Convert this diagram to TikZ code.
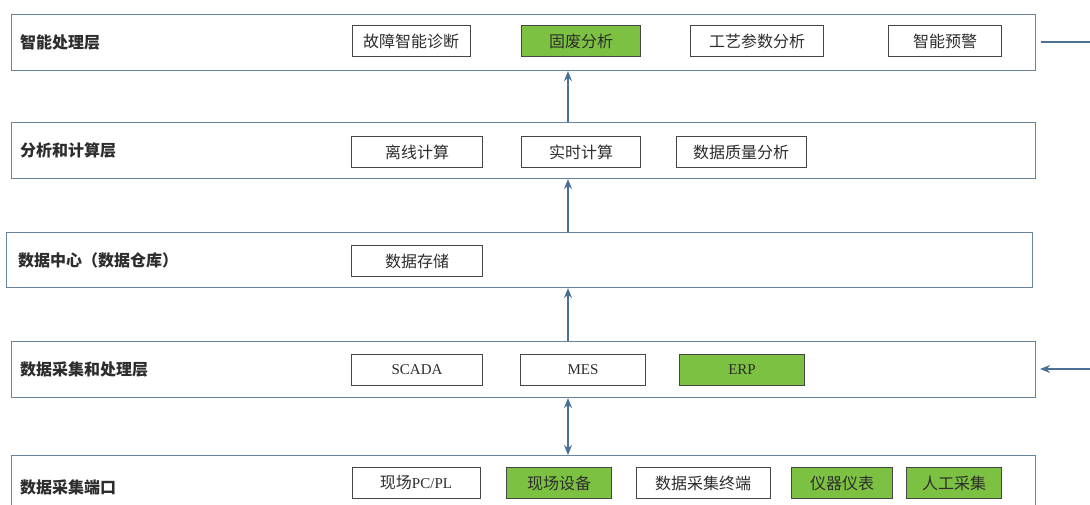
\documentclass[tikz,border=0pt]{standalone}
\usepackage{fontspec}
\setmainfont{Liberation Serif}
\newfontfamily\cjk{Noto Sans CJK SC}
\usetikzlibrary{positioning,arrows.meta}
\definecolor{layerline}{RGB}{104,132,156}
\definecolor{arrowblue}{RGB}{74,112,148}
\definecolor{itemline}{RGB}{70,70,70}
\definecolor{itemgreen}{RGB}{124,193,66}
\definecolor{textgrey}{RGB}{45,45,45}
\begin{document}
\begin{tikzpicture}
[x=1pt,y=-1pt,
 layer/.style={draw=layerline,line width=1.1pt,fill=white,minimum width=1024,minimum height=56,inner sep=0pt,anchor=north west},
 title/.style={font=\cjk\bfseries\fontsize{16}{18}\selectfont,text=textgrey,anchor=west,inner sep=0pt},
 item/.style={draw=itemline,line width=0.9pt,fill=white,minimum height=31,inner sep=0pt,text=textgrey,font=\cjk\fontsize{16}{18}\selectfont},
 greenitem/.style={item,fill=itemgreen},
 latin/.style={font=\rmfamily\fontsize{15}{17}\selectfont},
 link/.style={draw=arrowblue,line width=1.1pt,-{Stealth[length=10pt,width=8pt]}}]
\useasboundingbox (0,0) rectangle (1090,504);
\clip (0,0) rectangle (1090,504);

% layers
\node[layer] (L1) at (11,14) {};
\node[layer] (L2) at (11,122) {};
\node[layer,minimum width=1026,minimum height=55] (L3) at (6,232) {};
\node[layer] (L4) at (11,341) {};
\node[layer,minimum height=80] (L5) at (11,455) {};

\node[title,right=9pt of L1.west] (t1) {智能处理层};
\node[title,right=9pt of L2.west] (t2) {分析和计算层};
\node[title,right=12pt of L3.west] (t3) {数据中心（数据仓库）};
\node[title,right=9pt of L4.west] (t4) {数据采集和处理层};
\node[title,right=9pt of L5.west,yshift=8pt] (t5) {数据采集端口};

% items
\node[item,minimum width=118] (gzzd) at (411,41) {故障智能诊断};
\node[greenitem,minimum width=119] (gfa) at (581,41) {固废分析};
\node[item,minimum width=133] (gycs) at (757,41) {工艺参数分析};
\node[item,minimum width=113] (znyj) at (945,41) {智能预警};

\node[item,minimum width=131] (lxjs) at (417,152) {离线计算};
\node[item,minimum width=119] (ssjs) at (581,152) {实时计算};
\node[item,minimum width=130] (sjzl) at (741,152) {数据质量分析};

\node[item,minimum width=131] (sjcc) at (417,261) {数据存储};

\node[item,latin,minimum width=131] (scada) at (417,370) {SCADA};
\node[item,latin,minimum width=125] (mes) at (583,370) {MES};
\node[greenitem,latin,minimum width=125] (erp) at (742,370) {ERP};

\node[item,minimum width=128] (xcpc) at (416,483) {现场{\rmfamily\fontsize{15}{17}\selectfont PC/PL}};
\node[greenitem,minimum width=105] (xcsb) at (559,483) {现场设备};
\node[item,minimum width=134] (zdsj) at (703,483) {数据采集终端};
\node[greenitem,minimum width=101] (yqyb) at (842,483) {仪器仪表};
\node[greenitem,minimum width=95] (rgcj) at (954,483) {人工采集};

% connectors
\coordinate (mid) at (568,0);
\coordinate (outtop) at (1090,42);
\coordinate (outmid) at (1090,369);
\foreach \from/\to in {L2/L1, L3/L2, L4/L3}
  \draw[link] (\from.north -| mid) -- (\to.south -| mid);
\draw[link,{Stealth[length=10pt,width=8pt]}-{Stealth[length=10pt,width=8pt]}] (L5.north -| mid) -- (L4.south -| mid);
\draw[draw=arrowblue,line width=1.1pt,shorten <=5pt] (L1.east |- outtop) -- (outtop);
\draw[link,shorten >=4pt] (outmid) -- (L4.east |- outmid);

\end{tikzpicture}
\end{document}
